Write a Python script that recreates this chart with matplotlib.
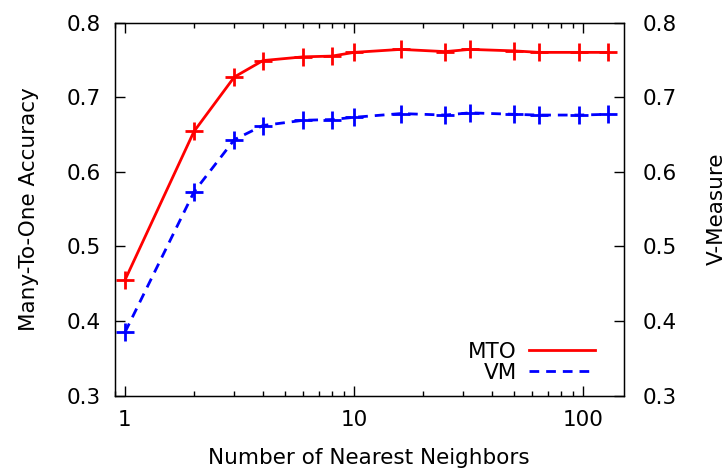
import numpy as np
import matplotlib
matplotlib.use("Agg")
import matplotlib.pyplot as plt
from matplotlib.lines import Line2D
import matplotlib.ticker as mticker

# ── data ─────────────────────────────────────────────────────
neighbors = [1, 2, 3, 4, 6, 8, 10, 16, 25, 32, 50, 64, 96, 128]
mto = [0.455, 0.654, 0.727, 0.749, 0.754, 0.755, 0.760, 0.764,
       0.761, 0.764, 0.762, 0.760, 0.760, 0.760]
vm = [0.385, 0.573, 0.643, 0.662, 0.669, 0.670, 0.673, 0.678,
      0.676, 0.679, 0.677, 0.676, 0.676, 0.677]

y_ticks = [0.3, 0.4, 0.5, 0.6, 0.7, 0.8]
x_ticks = [1, 10, 100]

FS = 15.5
LW = 2.0
plt.rcParams["font.family"] = ["DejaVu Sans"]

fig = plt.figure(figsize=(7.28, 4.70), dpi=100, facecolor="white")
ax = fig.add_axes([0.1573, 0.1581, 0.6992, 0.7940])

ax.plot(neighbors, mto, color="#ff0000", lw=LW, marker="+", ms=13, mew=2)
ax.plot(neighbors, vm, color="#0000ff", lw=LW, marker="+", ms=13, mew=2,
        dashes=(3.5, 2.5))

ax.set_xscale("log")
ax.set_xlim(0.9, 150)
ax.set_ylim(0.3, 0.8)
ax.set_xticks(x_ticks)
ax.xaxis.set_major_formatter(mticker.FuncFormatter(lambda v, p: f"{v:g}"))
ax.xaxis.set_minor_locator(mticker.LogLocator(base=10, subs=np.arange(2, 10)))
ax.xaxis.set_minor_formatter(mticker.NullFormatter())
ax.set_yticks(y_ticks)
ax.yaxis.set_major_formatter(mticker.FormatStrFormatter("%.1f"))

ax.tick_params(axis="both", which="major", direction="in", length=7, width=1,
               labelsize=FS, top=True, right=True)
ax.tick_params(axis="x", which="minor", direction="in", length=3.5, width=1,
               top=True)
ax.tick_params(axis="y", which="major", pad=10)
ax.tick_params(axis="x", which="major", pad=10)
for s in ax.spines.values():
    s.set_linewidth(1)

ax2 = ax.twinx()
ax2.set_ylim(0.3, 0.8)
ax2.set_yticks(y_ticks)
ax2.yaxis.set_major_formatter(mticker.FormatStrFormatter("%.1f"))
ax2.tick_params(axis="y", direction="in", length=7, width=1, labelsize=FS,
                pad=14)

ax.set_xlabel("Number of Nearest Neighbors", fontsize=FS, labelpad=13)
ax.set_ylabel("Many-To-One Accuracy", fontsize=FS, labelpad=20)
ax2.set_ylabel("V-Measure", fontsize=FS, labelpad=21)

handles = [Line2D([], [], color="#ff0000", lw=LW),
           Line2D([], [], color="#0000ff", lw=LW, dashes=(3.5, 2.5))]
ax.legend(handles, ["MTO", "VM"], loc="lower right", frameon=False,
          markerfirst=False, fontsize=FS, handlelength=3.1,
          handletextpad=0.55, labelspacing=0.05, borderpad=0,
          bbox_to_anchor=(0.966, 0.006))

fig.savefig("out.png", dpi=100)
